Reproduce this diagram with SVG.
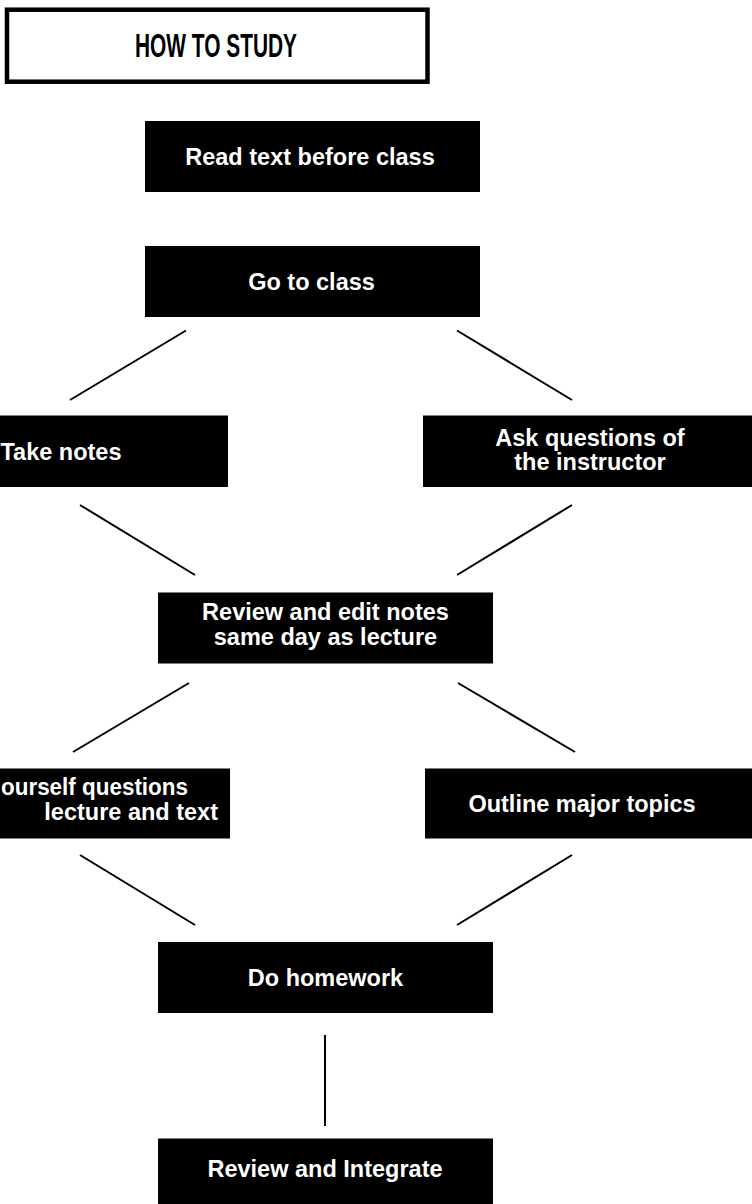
<svg xmlns="http://www.w3.org/2000/svg" width="752" height="1204" viewBox="0 0 752 1204">
<style>
.box{fill:#000}
.t{fill:#fff;font-family:"Liberation Sans",Arial,sans-serif;font-weight:bold;font-size:23.5px;text-anchor:middle}
.ttl{fill:#000;font-family:"Liberation Sans",Arial,sans-serif;font-weight:bold;font-size:33px;text-anchor:middle}
.c line{stroke:#000;stroke-width:2;stroke-linecap:butt}
</style>
<rect width="752" height="1204" fill="#fff"/>
<g id="title">
<rect x="7" y="9.7" width="420.5" height="72" fill="#fff" stroke="#000" stroke-width="4.5"/>
<text class="ttl" x="216" y="57" textLength="162" lengthAdjust="spacingAndGlyphs">HOW TO STUDY</text>
</g>
<g id="read">
<rect class="box" x="145" y="121" width="335" height="71"/>
<text class="t" x="310" y="165">Read text before class</text>
</g>
<g id="go">
<rect class="box" x="145" y="246" width="335" height="71"/>
<text class="t" x="311.5" y="290">Go to class</text>
</g>
<g id="take">
<rect class="box" x="-107" y="415.5" width="335" height="71.5"/>
<text class="t" x="61" y="460">Take notes</text>
</g>
<g id="ask">
<rect class="box" x="423" y="415.5" width="335" height="71.5"/>
<text class="t" x="590" y="446">Ask questions of</text>
<text class="t" x="590" y="470">the instructor</text>
</g>
<g id="review">
<rect class="box" x="158" y="592.5" width="335" height="71"/>
<text class="t" x="325.5" y="620">Review and edit notes</text>
<text class="t" x="325.5" y="645">same day as lecture</text>
</g>
<g id="askself">
<rect class="box" x="-105" y="768.5" width="335" height="70"/>
<text class="t" x="1" y="795" style="text-anchor:start" textLength="187" lengthAdjust="spacingAndGlyphs">ourself questions</text>
<text class="t" x="218" y="820" style="text-anchor:end">lecture and text</text>
</g>
<g id="outline">
<rect class="box" x="425" y="768.5" width="335" height="70"/>
<text class="t" x="582" y="812">Outline major topics</text>
</g>
<g id="homework">
<rect class="box" x="158" y="942" width="335" height="71"/>
<text class="t" x="325.5" y="986">Do homework</text>
</g>
<g id="integrate">
<rect class="box" x="158" y="1138.5" width="335" height="71"/>
<text class="t" x="325" y="1177">Review and Integrate</text>
</g>
<g id="connectors" class="c">
<line x1="186" y1="330.5" x2="70" y2="400"/>
<line x1="457" y1="330.5" x2="572" y2="400"/>
<line x1="80" y1="505" x2="195" y2="575"/>
<line x1="572" y1="505" x2="457" y2="575"/>
<line x1="189" y1="683" x2="73" y2="752"/>
<line x1="458" y1="683" x2="575" y2="752"/>
<line x1="80" y1="855" x2="195" y2="925"/>
<line x1="572" y1="855" x2="457" y2="925"/>
<line x1="325" y1="1035" x2="325" y2="1126"/>
</g>
</svg>
